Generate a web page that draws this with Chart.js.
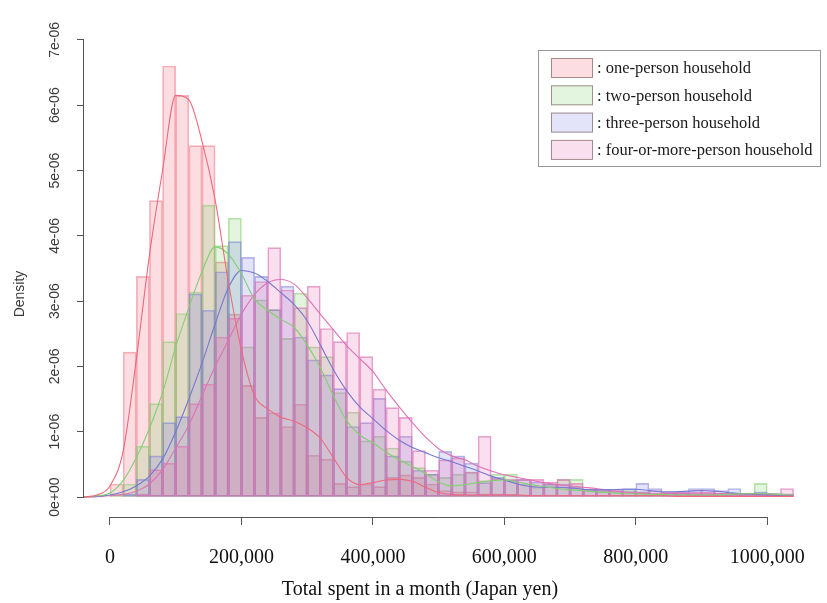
<!DOCTYPE html>
<html>
<head>
<meta charset="utf-8">
<title>Total spent in a month by household size</title>
<script src="https://cdn.jsdelivr.net/npm/chart.js@4.4.1/dist/chart.umd.min.js"></script>
<style>
  html, body { margin: 0; padding: 0; background: #fff; }
  #plot { display: block; }
</style>
</head>
<body>
<canvas id="plot" width="827" height="603"></canvas>
<script>
// histogram bins, 20,000 yen wide (mid points, thousands of yen)
const binMid = [10, 30, 50, 70, 90, 110, 130, 150, 170, 190, 210, 230, 250, 270, 290, 310, 330, 350, 370, 390,
  410, 430, 450, 470, 490, 510, 530, 550, 570, 590, 610, 630, 650, 670, 690, 710, 730, 750, 770, 790,
  810, 830, 850, 870, 890, 910, 930, 950, 970, 990, 1010, 1030];

// densities, in units of 1e-06
const oneHist = [0.2, 2.22, 3.38, 4.54, 6.6, 6.15, 5.38, 5.38, 3.6, 2.8, 1.71, 1.22, 1.29, 1.08, 1.42, 0.64, 0.58, 0.21, 0.16, 0.2,
  0.16, 0.3, 0.34, 0.3, 0.2, 0.1, 0.08, 0.08, 0.05, 0.05, 0.04, 0.03, 0.02, 0.03, 0.02, 0.02, 0.01, 0.02, 0.01, 0.01,
  0.02, 0.01, 0.01, 0, 0.01, 0, 0.01, 0, 0, 0.01, 0, 0];
const twoHist = [0.05, 0.2, 0.78, 1.43, 2.38, 2.81, 3.14, 4.47, 3.85, 4.27, 2.3, 3.02, 2.87, 2.43, 3.12, 2.3, 2.15, 1.6, 1.3, 0.86,
  0.93, 0.75, 0.55, 0.45, 0.35, 0.3, 0.35, 0.38, 0.25, 0.35, 0.35, 0.2, 0.15, 0.2, 0.27, 0.27, 0.1, 0.08, 0.08, 0.1,
  0.08, 0.05, 0.05, 0.05, 0.05, 0.05, 0.05, 0.05, 0.03, 0.21, 0.03, 0];
const threeHist = [0, 0.05, 0.27, 0.63, 1.14, 1.23, 3.11, 2.86, 3.45, 3.91, 3.67, 3.38, 2.87, 3.23, 2.45, 2.1, 1.87, 1.66, 1.08, 1.14,
  1.51, 0.63, 0.93, 0.41, 0.35, 0.7, 0.63, 0.52, 0.22, 0.3, 0.26, 0.27, 0.23, 0.2, 0.2, 0.15, 0.12, 0.12, 0.12, 0.13,
  0.21, 0.13, 0.07, 0.07, 0.13, 0.13, 0.1, 0.13, 0.05, 0.08, 0.05, 0.05];
const fourHist = [0, 0, 0.05, 0.42, 0.52, 0.78, 1.43, 1.73, 2.45, 2.74, 3.09, 3.3, 3.82, 3.17, 2.9, 3.23, 2.58, 2.38, 2.52, 2.15,
  1.65, 1.37, 1.22, 0.71, 0.41, 0.57, 0.6, 0.38, 0.93, 0.28, 0.27, 0.27, 0.27, 0.23, 0.27, 0.21, 0.12, 0.1, 0.1, 0.08,
  0.08, 0.1, 0.07, 0.07, 0.08, 0.08, 0.06, 0.05, 0.05, 0.05, 0.05, 0.13];

// kernel density curves (thousands of yen)
const curveX = [-40, -20, 0, 20, 40, 60, 80, 100, 120, 140, 160, 180, 200, 220, 240, 260, 280, 300, 320, 340,
  360, 380, 400, 420, 440, 460, 480, 500, 520, 540, 560, 580, 600, 620, 640, 660, 680, 700, 720, 740,
  760, 780, 800, 820, 840, 860, 880, 900, 920, 940, 960, 980, 1000, 1020, 1040];
const oneCurve = [0, 0.03, 0.17, 0.7, 2.1, 3.7, 5.0, 6.15, 6.08, 5.45, 4.55, 3.3, 2.25, 1.55, 1.35, 1.22, 1.16, 1.06, 0.9, 0.6,
  0.3, 0.19, 0.22, 0.26, 0.27, 0.24, 0.15, 0.07, 0.04, 0.03, 0.03, 0.03, 0.03, 0.03, 0.02, 0.02, 0.02, 0.02, 0.02, 0.02,
  0.02, 0.02, 0.02, 0.02, 0.02, 0.01, 0.01, 0.01, 0.01, 0.01, 0.01, 0.01, 0.01, 0.01, 0.01];
const twoCurve = [0, 0.02, 0.06, 0.25, 0.6, 1.05, 1.6, 2.3, 2.9, 3.45, 3.83, 3.72, 3.42, 3.03, 2.86, 2.72, 2.6, 2.33, 1.98, 1.55,
  1.17, 0.95, 0.83, 0.69, 0.57, 0.47, 0.36, 0.23, 0.17, 0.19, 0.22, 0.25, 0.26, 0.23, 0.19, 0.16, 0.13, 0.11, 0.1, 0.08,
  0.07, 0.05, 0.05, 0.04, 0.04, 0.03, 0.03, 0.03, 0.03, 0.04, 0.05, 0.05, 0.05, 0.04, 0.03];
const threeCurve = [0, 0.01, 0.03, 0.08, 0.17, 0.32, 0.58, 1.0, 1.5, 2.05, 2.65, 3.2, 3.47, 3.43, 3.3, 3.13, 2.95, 2.7, 2.33, 1.95,
  1.63, 1.38, 1.2, 1.02, 0.87, 0.76, 0.68, 0.6, 0.54, 0.47, 0.4, 0.32, 0.26, 0.2, 0.16, 0.15, 0.15, 0.14, 0.12, 0.11,
  0.11, 0.12, 0.12, 0.1, 0.08, 0.08, 0.09, 0.1, 0.09, 0.07, 0.05, 0.04, 0.03, 0.02, 0.02];
const fourCurve = [0, 0.005, 0.02, 0.04, 0.09, 0.2, 0.42, 0.75, 1.1, 1.55, 2.0, 2.4, 2.8, 3.1, 3.28, 3.33, 3.26, 3.05, 2.8, 2.56,
  2.32, 2.12, 1.92, 1.64, 1.38, 1.14, 0.92, 0.74, 0.63, 0.57, 0.47, 0.4, 0.34, 0.3, 0.26, 0.22, 0.19, 0.17, 0.15, 0.13,
  0.1, 0.08, 0.06, 0.05, 0.05, 0.05, 0.05, 0.05, 0.05, 0.05, 0.05, 0.05, 0.05, 0.04, 0.03];

const seriesNames = ['one-person household', 'two-person household', 'three-person household', 'four-or-more-person household'];
const xTickValues = [0, 200, 400, 600, 800, 1000];
const xTickLabels = ['0', '200,000', '400,000', '600,000', '800,000', '1000,000'];
const yTickValues = [0, 1, 2, 3, 4, 5, 6, 7];
const yTickLabels = ['0e+00', '1e-06', '2e-06', '3e-06', '4e-06', '5e-06', '6e-06', '7e-06'];
const xTitle = 'Total spent in a month (Japan yen)';
const yTitle = 'Density';

const fills = ['rgba(240,80,100,0.19)', 'rgba(100,200,80,0.18)', 'rgba(100,100,220,0.18)', 'rgba(225,80,160,0.18)'];
const edges = ['rgba(240,120,135,0.55)', 'rgba(130,205,110,0.55)', 'rgba(125,130,215,0.55)', 'rgba(220,120,185,0.65)'];
const lines = ['#f0677e', '#82d070', '#7878d0', '#e072b6'];

const serif = '"Liberation Serif", "Times New Roman", serif';
const sans = '"Liberation Sans", Arial, sans-serif';

const hists = [oneHist, twoHist, threeHist, fourHist];
const curves = [oneCurve, twoCurve, threeCurve, fourCurve];

const datasets = [];
// curves on top
curves.forEach(function( vals, i )
{
    datasets.push({
        type: 'line',
        label: seriesNames[ i ] + ' density',
        data: curveX.map(( x, j ) => ({ x: x, y: vals[ j ] })),
        borderColor: lines[ i ],
        borderWidth: 1.1,
        pointRadius: 0,
        fill: false,
        cubicInterpolationMode: 'monotone',
        order: 0
    });
});
// bars: one-person drawn first, four-or-more last
hists.forEach(function( vals, i )
{
    datasets.push({
        type: 'bar',
        label: seriesNames[ i ],
        data: binMid.map(( x, j ) => ({ x: x, y: vals[ j ] })),
        backgroundColor: fills[ i ],
        borderColor: edges[ i ],
        borderWidth: 1,
        borderSkipped: false,
        grouped: false,
        barPercentage: 1,
        categoryPercentage: 1,
        order: 4 - i
    });
});

// R style axes, titles and legend box
const rDecor = {
    id: 'rDecor',
    afterDraw( chart )
    {
        const ctx = chart.ctx;
        const xs = chart.scales.x;
        const ys = chart.scales.y;
        const area = chart.chartArea;
        ctx.save();
        ctx.strokeStyle = '#555';
        ctx.lineWidth = 1;

        const ay = Math.round( area.bottom ) + 0.5;
        ctx.beginPath();
        ctx.moveTo( xs.getPixelForValue( xTickValues[ 0 ] ), ay );
        ctx.lineTo( xs.getPixelForValue( xTickValues[ xTickValues.length - 1 ] ), ay );
        ctx.stroke();

        const ax = Math.round( area.left ) - 0.5;
        ctx.beginPath();
        ctx.moveTo( ax, ys.getPixelForValue( yTickValues[ 0 ] ));
        ctx.lineTo( ax, ys.getPixelForValue( yTickValues[ yTickValues.length - 1 ] ));
        ctx.stroke();

        // y tick labels, rotated like R
        ctx.fillStyle = '#3a3a3a';
        ctx.font = '14px ' + sans;
        ctx.textAlign = 'center';
        ctx.textBaseline = 'middle';
        yTickValues.forEach(function( v, i )
        {
            ctx.save();
            ctx.translate( 55, ys.getPixelForValue( v ));
            ctx.rotate( -Math.PI / 2 );
            ctx.fillText( yTickLabels[ i ], 0, 0 );
            ctx.restore();
        });
        ctx.save();
        ctx.translate( 20, 294 );
        ctx.rotate( -Math.PI / 2 );
        ctx.fillText( yTitle, 0, 0 );
        ctx.restore();

        ctx.fillStyle = '#111';
        ctx.font = '20px ' + serif;
        ctx.fillText( xTitle, 420, 590 );

        // legend
        const lx = 538.5, ly = 50.5, lw = 282, lh = 116;
        ctx.fillStyle = '#fff';
        ctx.fillRect( lx, ly, lw, lh );
        ctx.strokeStyle = '#999';
        ctx.strokeRect( lx, ly, lw, lh );
        ctx.textAlign = 'left';
        ctx.font = '16.5px ' + serif;
        seriesNames.forEach(function( name, i )
        {
            const ry = 58 + i * 27.3;
            ctx.fillStyle = fills[ i ];
            ctx.fillRect( 551, ry, 42, 20 );
            ctx.strokeStyle = 'rgba(130,100,100,0.7)';
            ctx.strokeRect( 551.5, ry + 0.5, 41, 19 );
            ctx.fillStyle = '#1a1a1a';
            ctx.fillText( ': ' + name, 597, ry + 11 );
        });
        ctx.restore();
    }
};

new Chart( document.getElementById( 'plot' ), {
    data: { datasets: datasets },
    options: {
        responsive: false,
        animation: false,
        layout: { padding: { left: 0, right: 30, top: 20, bottom: 0 } },
        plugins: {
            legend: { display: false },
            tooltip: { enabled: false }
        },
        scales: {
            x: {
                type: 'linear',
                min: -39.5,
                max: 1044,
                offset: false,
                afterBuildTicks: s => { s.ticks = xTickValues.map( v => ({ value: v })); },
                afterFit: s => { s.height = 86; },
                ticks: {
                    callback: ( v, i ) => xTickLabels[ i ],
                    font: { family: serif, size: 20 },
                    color: '#111',
                    padding: 21,
                    maxRotation: 0,
                    autoSkip: false
                },
                grid: { offset: false, drawOnChartArea: false, drawTicks: true, tickLength: 8, color: '#555' },
                border: { display: false }
            },
            y: {
                type: 'linear',
                min: -0.306,
                max: 7.305,
                afterBuildTicks: s => { s.ticks = yTickValues.map( v => ({ value: v })); },
                afterFit: s => { s.width = 84; },
                ticks: { display: false },
                grid: { drawOnChartArea: false, drawTicks: true, tickLength: 7, color: '#555' },
                border: { display: false }
            }
        }
    },
    plugins: [ rDecor ]
});
</script>
</body>
</html>
